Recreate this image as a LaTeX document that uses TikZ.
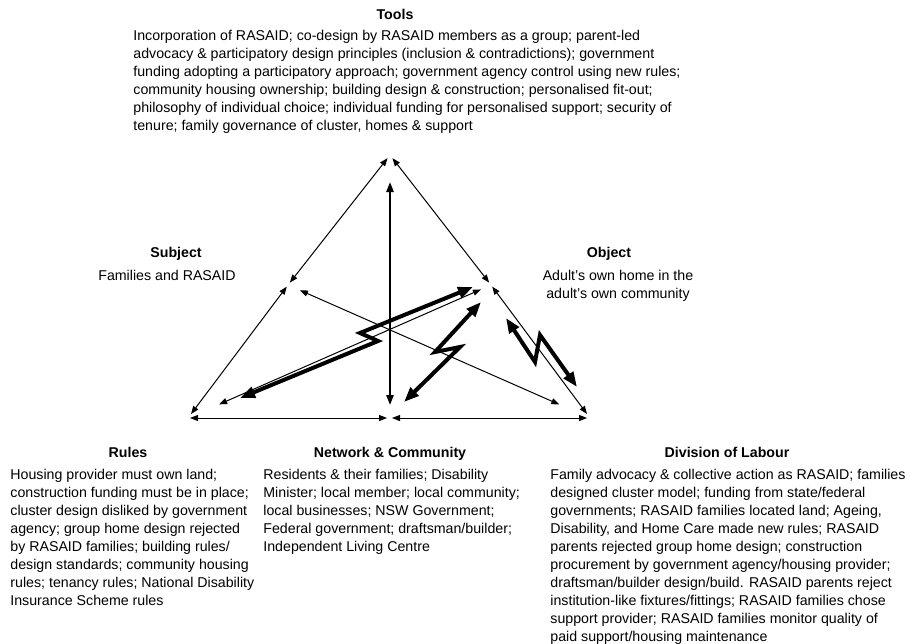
\documentclass[tikz,border=0pt]{standalone}
\usepackage{fontspec}
\setmainfont{Liberation Sans}
\usetikzlibrary{arrows.meta}
\tikzset{
  head/.style={font=\fontsize{7.1}{9}\selectfont\bfseries, inner sep=0pt, anchor=base},
  body/.style={font=\fontsize{7.1}{9}\selectfont, inner sep=0pt, align=left, anchor=north west},
  side/.style={{Triangle[length=4pt,width=3pt]}-{Triangle[length=4pt,width=3pt]}, line width=0.5pt},
  axis/.style={{Triangle[length=5pt,width=3.6pt]}-{Triangle[length=5pt,width=3.6pt]}, line width=1pt},
  bolt/.style={{Triangle[length=7.5pt,width=5.6pt]}-{Triangle[length=7.5pt,width=5.6pt]}, line width=2pt, line join=miter},
}

\begin{document}
\begin{tikzpicture}[x=0.5pt, y=-0.5pt]
        \useasboundingbox (0,0) rectangle (915,643);

        % Corners of the triangle
        \coordinate (tools)   at (390,155);
        \coordinate (subject) at (288,285);
        \coordinate (object)  at (491,285);
        \coordinate (rules)   at (188,418);
        \coordinate (comm)    at (390,418);
        \coordinate (labour)  at (590,418);

        % Sides
        \draw[side, shorten <=2pt, shorten >=1.5pt] (tools) -- (subject);
        \draw[side, shorten <=1pt, shorten >=2.5pt] (subject) -- (rules);
        \draw[side, shorten <=2pt, shorten >=1.5pt] (tools) -- (object);
        \draw[side, shorten <=1pt, shorten >=2.5pt] (object) -- (labour);
        \draw[side, shorten <=1pt, shorten >=1.5pt] (rules) -- (comm);
        \draw[side, shorten <=1pt, shorten >=1.5pt] (comm) -- (labour);

        % Inner links
        \draw[axis, shorten <=13.5pt, shorten >=6.5pt] (tools) -- (comm);
        \draw[side, shorten <=6.5pt, shorten >=16.8pt] (subject) -- (labour);
        \draw[side, shorten <=17pt, shorten >=5.5pt] (rules) -- (object);

        % Contradictions
        \draw[bolt] (240,398) -- (378,341) -- (360,333) -- (473,287);
        \draw[bolt] (404,402) -- (460,347) -- (435,352) -- (481,302);
        \draw[bolt] (506,318) -- (535,362) -- (540,335) -- (577,387);

        % Tools
        \node[head] (toolsHead) at (395,19) {Tools};
        \node[body] (toolsText) at (133,29.5) {Incorporation of RASAID; co-design by RASAID members as a group; parent-led\\
          advocacy \& participatory design principles (inclusion \& contradictions); government\\
          funding adopting a participatory approach; government agency control using new rules;\\
          community housing ownership; building design \& construction; personalised fit-out;\\
          philosophy of individual choice; individual funding for personalised support; security of\\
          tenure; family governance of cluster, homes \& support};

        % Subject and Object
        \node[head] (subjHead) at (176,257) {Subject};
        \node[body, anchor=base] (subjText) at (167,280) {Families and RASAID};
        \node[head] (objHead) at (609,257) {Object};
        \node[body, anchor=north, align=center] (objText) at (618,270) {Adult's own home in the\\adult's own community};

        % Rules
        \node[head] (rulesHead) at (128,457.5) {Rules};
        \node[body] (rulesText) at (10,469) {Housing provider must own land;\\
          construction funding must be in place;\\
          cluster design disliked by government\\
          agency; group home design rejected\\
          by RASAID families; building rules/\\
          design standards; community housing\\
          rules; tenancy rules; National Disability\\
          Insurance Scheme rules};

        % Network & Community
        \node[head] (commHead) at (390,457.5) {Network \& Community};
        \node[body] (commText) at (263,469) {Residents \& their families; Disability\\
          Minister; local member; local community;\\
          local businesses; NSW Government;\\
          Federal government; draftsman/builder;\\
          Independent Living Centre};

        % Division of Labour
        \node[head] (labourHead) at (727,457.5) {Division of Labour};
        \node[body] (labourText) at (550,469) {Family advocacy \& collective action as RASAID; families\\
          designed cluster model; funding from state/federal\\
          governments; RASAID families located land; Ageing,\\
          Disability, and Home Care made new rules; RASAID\\
          parents rejected group home design; construction\\
          procurement by government agency/housing provider;\\
          draftsman/builder design/build. RASAID parents reject\\
          institution-like fixtures/fittings; RASAID families chose\\
          support provider; RASAID families monitor quality of\\
          paid support/housing maintenance};
      \end{tikzpicture}
\end{document}
